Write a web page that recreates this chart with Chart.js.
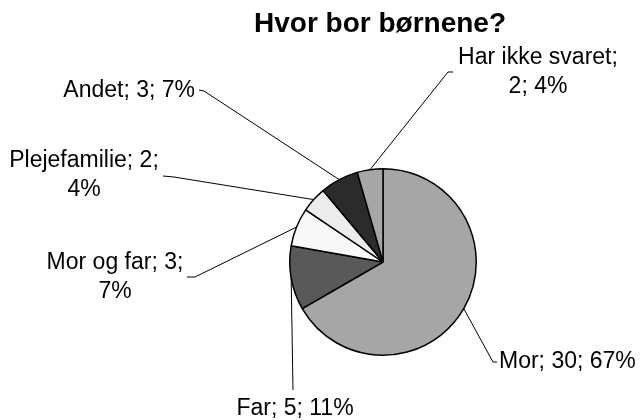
<!DOCTYPE html>
<html>
<head>
<meta charset="utf-8">
<script src="https://cdn.jsdelivr.net/npm/chart.js@4"></script>
<style>
  html, body { margin: 0; padding: 0; background: #fff; }
  #wrap { width: 640px; height: 420px; }
</style>
</head>
<body>
<div id="wrap"><canvas id="graficoPizza" width="640" height="420"></canvas></div>
<script>
const titulo = 'Hvor bor børnene?';
const categorias = ['Mor', 'Far', 'Mor og far', 'Plejefamilie', 'Andet', 'Har ikke svaret'];
const antal = [30, 5, 3, 2, 3, 2];
const farver = ['#a6a6a6', '#595959', '#f8f8f8', '#ececec', '#2b2b2b', '#a6a6a6'];

// where each data label sits and how its leader line bends (layout only)
const labelLayout = [
  { x: 499, y: 368, align: 'left',   lines: [3],    path: [[493, 362], [497, 362]] },
  { x: 295, y: 415, align: 'center', lines: [3],    path: [[293, 390]] },
  { x: 115, y: 269, align: 'center', lines: [2, 1], path: [[195, 277], [187, 277]] },
  { x: 84,  y: 167, align: 'center', lines: [2, 1], path: [[174, 177], [163, 176]] },
  { x: 195, y: 97,  align: 'right',  lines: [3],    path: [[204, 91], [199, 90]] },
  { x: 538, y: 64,  align: 'center', lines: [1, 2], path: [[448, 72], [453, 72]] }
];
const lineHeight = 29;

const total = antal.reduce((a, b) => a + b, 0);

function labelLines(i) {
  const tokens = [categorias[i], String(antal[i]), Math.round(antal[i] / total * 100) + '%'];
  const out = [];
  let k = 0;
  labelLayout[i].lines.forEach((n, li, arr) => {
    let s = tokens.slice(k, k + n).join('; ');
    k += n;
    if (li < arr.length - 1) s += ';';
    out.push(s);
  });
  return out;
}

const etiketter = {
  id: 'etiketter',
  afterDatasetsDraw(chart) {
    const ctx = chart.ctx;
    const meta = chart.getDatasetMeta(0);
    ctx.save();

    // title
    ctx.fillStyle = '#000';
    ctx.font = 'bold 28px "Liberation Sans", Arial, sans-serif';
    ctx.textAlign = 'center';
    ctx.textBaseline = 'alphabetic';
    ctx.fillText(titulo, 380, 32);

    meta.data.forEach((arc, i) => {
      const p = arc.getProps(['x', 'y', 'startAngle', 'endAngle', 'outerRadius'], true);
      const mid = (p.startAngle + p.endAngle) / 2;
      const sx = p.x + Math.cos(mid) * p.outerRadius;
      const sy = p.y + Math.sin(mid) * p.outerRadius;
      const lay = labelLayout[i];

      ctx.strokeStyle = '#000';
      ctx.lineWidth = 1;
      ctx.beginPath();
      ctx.moveTo(sx, sy);
      lay.path.forEach(pt => ctx.lineTo(pt[0], pt[1]));
      ctx.stroke();

      ctx.font = '23px "Liberation Sans", Arial, sans-serif';
      ctx.textAlign = lay.align;
      labelLines(i).forEach((t, li) => {
        ctx.fillText(t, lay.x, lay.y + li * lineHeight);
      });
    });
    ctx.restore();
  }
};

const ctx = document.getElementById('graficoPizza').getContext('2d');
new Chart(ctx, {
  type: 'pie',
  data: {
    labels: categorias,
    datasets: [{
      data: antal,
      backgroundColor: farver,
      borderColor: '#000',
      borderWidth: 1.5
    }]
  },
  options: {
    responsive: false,
    animation: false,
    layout: {
      padding: { left: 289, right: 163, top: 168, bottom: 64 }
    },
    plugins: {
      legend: { display: false },
      tooltip: { enabled: false },
      title: { display: false }
    }
  },
  plugins: [etiketter]
});
</script>
</body>
</html>
